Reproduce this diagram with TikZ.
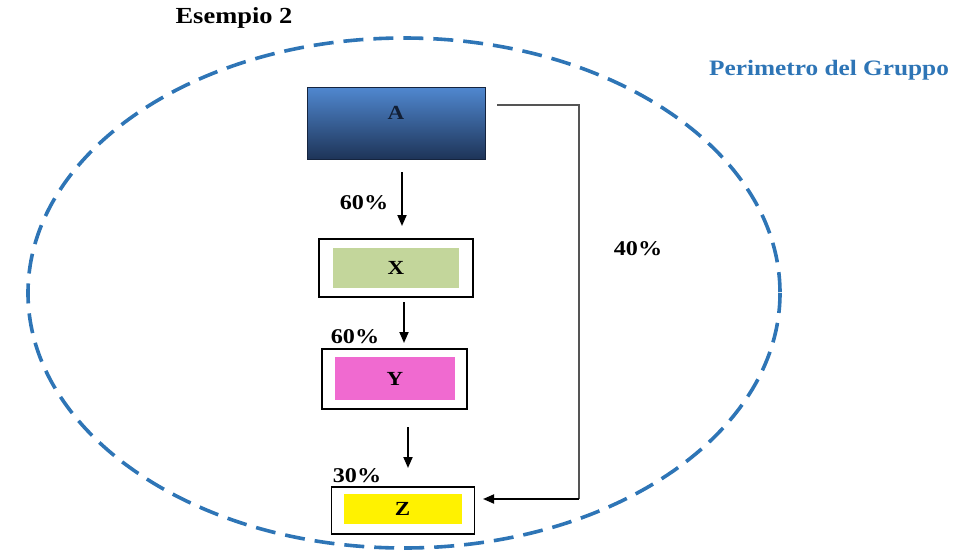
\documentclass[tikz,border=0pt]{standalone}
\usepackage{fontspec}
\setmainfont{Liberation Serif}[FakeStretch=1.15]
\usetikzlibrary{arrows.meta}
\definecolor{perim}{RGB}{46,117,182}
\definecolor{boxtop}{RGB}{80,136,208}
\definecolor{boxbot}{RGB}{30,52,88}
\definecolor{greenfill}{RGB}{195,214,155}
\definecolor{pinkfill}{RGB}{240,106,208}
\definecolor{yellowfill}{RGB}{255,242,0}
\definecolor{linkgray}{RGB}{85,85,85}
\tikzset{
  lbl/.style={font=\bfseries\fontsize{21}{24}\selectfont, inner sep=0pt},
  outerbox/.style={draw=black, line width=1.3pt, inner sep=0pt},
  innerbox/.style={inner sep=0pt, font=\bfseries\fontsize{20}{23}\selectfont},
  flow/.style={line width=1.8pt, -{Triangle[length=11pt,width=9pt]}},
}
\begin{document}
\begin{tikzpicture}[x=1pt,y=-1pt]
\useasboundingbox (0,0) rectangle (974,552);
% group perimeter
\draw[perim, line width=3.6pt, dash pattern=on 20pt off 10pt] (404,293) ellipse [x radius=376, y radius=255];
\node[font=\bfseries\fontsize{23}{26}\selectfont] (title) at (234,18) {Esempio 2};
\node[font=\bfseries\fontsize{22}{25}\selectfont, text=perim] (perimlbl) at (829,70) {Perimetro del Gruppo};
% parent company
\node[draw=boxbot!70!black, line width=0.8pt, top color=boxtop, bottom color=boxbot,
      minimum width=178pt, minimum height=72pt, inner sep=0pt] (A) at (396,123) {};
\node[innerbox, text=boxbot!60!black] (Alab) at (396,113) {A};
% controlled companies
\node[outerbox, minimum width=154pt, minimum height=58pt] (Xo) at (396,268) {};
\node[innerbox, fill=greenfill, minimum width=126pt, minimum height=40pt] (X) at (396,268) {X};
\node[outerbox, minimum width=145pt, minimum height=60pt] (Yo) at (394.5,379) {};
\node[innerbox, fill=pinkfill, minimum width=120pt, minimum height=43pt] (Y) at (395,378.5) {Y};
\node[outerbox, minimum width=143pt, minimum height=47pt] (Zo) at (403,510.5) {};
\node[innerbox, fill=yellowfill, minimum width=118pt, minimum height=30pt] (Z) at (402.5,509) {Z};
% vertical shareholdings
\coordinate (a1s) at (402,172); \coordinate (a1e) at (402,226);
\coordinate (a2s) at (404,302); \coordinate (a2e) at (404,343);
\coordinate (a3s) at (408,427); \coordinate (a3e) at (408,468);
\draw[flow] (a1s) -- (a1e);
\draw[flow] (a2s) -- (a2e);
\draw[flow] (a3s) -- (a3e);
\node[lbl] (p1) at (364,203) {60\%};
\node[lbl] (p2) at (355,337) {60\%};
\node[lbl] (p3) at (357,476) {30\%};
% direct link A -> Z
\coordinate (l0) at (497,105);
\coordinate (l1) at (579,105);
\coordinate (l2) at (579,499);
\coordinate (l3) at (483,499);
\draw[linkgray, line width=1.5pt] (l0) -- (l1) -- (l2);
\draw[flow] (l2) -- (l3);
\node[lbl] (p4) at (638,249) {40\%};
\end{tikzpicture}
\end{document}
